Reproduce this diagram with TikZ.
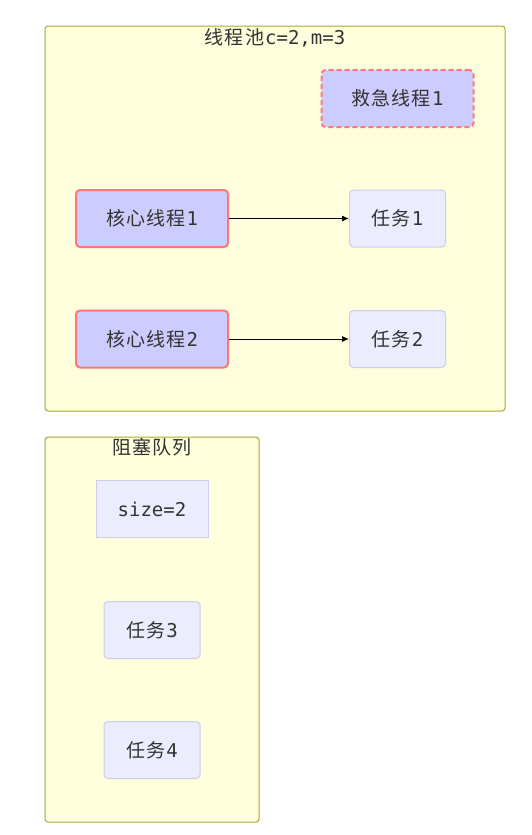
\documentclass[tikz,border=0pt]{standalone}
\usepackage{fontspec}
\newfontfamily\cjk{Noto Sans CJK SC}[LetterSpace=6]
\setmonofont{DejaVu Sans Mono}
\usetikzlibrary{arrows.meta}
\definecolor{clbg}{HTML}{FFFFDE}
\definecolor{clbd}{HTML}{AAAA33}
\definecolor{thfill}{HTML}{CCCCFF}
\definecolor{thbd}{HTML}{FF7777}
\definecolor{tkfill}{HTML}{ECECFF}
\definecolor{tkbd}{HTML}{CCCCEE}
\definecolor{txt}{HTML}{333333}
\tikzset{
  x=1pt,y=-1pt,
  cluster/.style={draw=clbd,fill=clbg,line width=1pt,rounded corners=3pt},
  thread/.style={draw=thbd,fill=thfill,line width=2pt,rounded corners=4pt,minimum width=152pt,minimum height=57pt,inner sep=0pt,text=txt,font=\fontsize{19}{22}\selectfont},
  spare/.style={thread,dashed,dash pattern=on 5pt off 3pt},
  task/.style={draw=tkbd,fill=tkfill,line width=1pt,rounded corners=4pt,minimum width=96pt,minimum height=57pt,inner sep=0pt,text=txt,font=\fontsize{19}{22}\selectfont},
  sizebox/.style={task,rounded corners=0pt,minimum width=112pt},
  ttl/.style={text=txt,font=\fontsize{19}{22}\selectfont,inner sep=0pt},
  conn/.style={draw=black,line width=1pt,-{Latex[length=7pt,width=6pt]}}
}
\newcommand{\zh}[1]{{\cjk #1}}
\begin{document}
\begin{tikzpicture}
\useasboundingbox (0,0) rectangle (532,835);
\fill[white] (0,0) rectangle (532,835);
% clusters
\draw[cluster] (45,26) rectangle (505,411);
\node[ttl] (t1) at (275,38) {\zh{线程池}\texttt{c=2,m=3}};
\draw[cluster] (45,437) rectangle (259,822);
\node[ttl] (t2) at (152,447) {\zh{阻塞队列}};
% nodes
\node[spare] (e1) at (397.5,98.5) {\zh{救急线程}\texttt{1}};
\node[thread] (c1) at (152,218.5) {\zh{核心线程}\texttt{1}};
\node[thread] (c2) at (152,339) {\zh{核心线程}\texttt{2}};
\node[task] (k1) at (397.5,218.5) {\zh{任务}\texttt{1}};
\node[task] (k2) at (397.5,339) {\zh{任务}\texttt{2}};
\node[sizebox] (s) at (152,509) {\texttt{size=2}};
\node[task] (k3) at (152,630) {\zh{任务}\texttt{3}};
\node[task] (k4) at (152,750) {\zh{任务}\texttt{4}};
% connectors
\draw[conn] (c1) -- (k1);
\draw[conn] (c2) -- (k2);
\end{tikzpicture}
\end{document}
